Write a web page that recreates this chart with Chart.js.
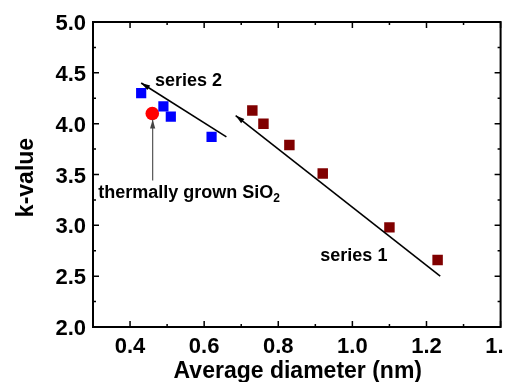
<!DOCTYPE html>
<html>
<head>
<meta charset="utf-8">
<script src="https://cdn.jsdelivr.net/npm/chart.js@4/dist/chart.umd.min.js"></script>
<style>
  html, body { margin: 0; padding: 0; background: #fff; }
  #wrap { width: 508px; height: 382px; }
</style>
</head>
<body>
<div id="wrap"><canvas id="kChart" width="508" height="382"></canvas></div>
<script>
/* === DADOS === */
const series1X = [0.73, 0.76, 0.83, 0.92, 1.10, 1.23];
const series1Y = [4.13, 4.00, 3.79, 3.51, 2.98, 2.66];
const series2X = [0.43, 0.49, 0.51, 0.62];
const series2Y = [4.30, 4.17, 4.07, 3.87];
const sio2X = [0.46];
const sio2Y = [4.10];

// arrow lines: [from, to] (arrowhead at "to")
const trend1X = [1.237, 0.685];
const trend1Y = [2.50, 4.08];
const trend2X = [0.66, 0.43];
const trend2Y = [3.87, 4.40];
const pointerX = [0.461, 0.461];
const pointerY = [3.44, 4.04];

const xTicks = [0.4, 0.6, 0.8, 1.0, 1.2, 1.4];
const xMinor = [0.3, 0.5, 0.7, 0.9, 1.1, 1.3];
const yTicks = [2.0, 2.5, 3.0, 3.5, 4.0, 4.5, 5.0];
const yMinor = [2.25, 2.75, 3.25, 3.75, 4.25, 4.75];

const xTitle = "Average diameter (nm)";
const yTitle = "k-value";

const toXY = (xs, ys) => xs.map((x, i) => ({ x: x, y: ys[i] }));

const FONT = '"Liberation Sans", Arial, Helvetica, sans-serif';

/* === PLUGIN: moldura, ticks, textos, setas === */
const framePlugin = {
  id: 'frame',
  afterDatasetsDraw(chart) {
    const ctx = chart.ctx;
    const a = chart.chartArea;
    const xs = chart.scales.x;
    const ys = chart.scales.y;
    ctx.save();

    // arrowheads
    function head(xArr, yArr, color) {
      const x0 = xs.getPixelForValue(xArr[0]), y0 = ys.getPixelForValue(yArr[0]);
      const x1 = xs.getPixelForValue(xArr[1]), y1 = ys.getPixelForValue(yArr[1]);
      const ang = Math.atan2(y1 - y0, x1 - x0);
      const len = 9, half = 2.6;
      ctx.fillStyle = color;
      ctx.beginPath();
      ctx.moveTo(x1, y1);
      ctx.lineTo(x1 - len * Math.cos(ang) + half * Math.sin(ang), y1 - len * Math.sin(ang) - half * Math.cos(ang));
      ctx.lineTo(x1 - len * Math.cos(ang) - half * Math.sin(ang), y1 - len * Math.sin(ang) + half * Math.cos(ang));
      ctx.closePath();
      ctx.fill();
    }
    head(trend1X, trend1Y, '#000');
    head(trend2X, trend2Y, '#000');
    head(pointerX, pointerY, '#444');

    // moldura
    ctx.strokeStyle = '#000';
    ctx.lineWidth = 2;
    ctx.strokeRect(a.left, a.top, a.right - a.left, a.bottom - a.top);

    // ticks para dentro
    ctx.lineWidth = 1.5;
    ctx.beginPath();
    xTicks.forEach(v => {
      const p = xs.getPixelForValue(v);
      ctx.moveTo(p, a.bottom); ctx.lineTo(p, a.bottom - 6);
      ctx.moveTo(p, a.top); ctx.lineTo(p, a.top + 6);
    });
    xMinor.forEach(v => {
      const p = xs.getPixelForValue(v);
      ctx.moveTo(p, a.bottom); ctx.lineTo(p, a.bottom - 3);
      ctx.moveTo(p, a.top); ctx.lineTo(p, a.top + 3);
    });
    yTicks.forEach(v => {
      const p = ys.getPixelForValue(v);
      ctx.moveTo(a.left, p); ctx.lineTo(a.left + 6, p);
      ctx.moveTo(a.right, p); ctx.lineTo(a.right - 6, p);
    });
    yMinor.forEach(v => {
      const p = ys.getPixelForValue(v);
      ctx.moveTo(a.left, p); ctx.lineTo(a.left + 3, p);
      ctx.moveTo(a.right, p); ctx.lineTo(a.right - 3, p);
    });
    ctx.stroke();

    // labels dos ticks (o ultimo fica cortado na margem, como no original)
    ctx.fillStyle = '#000';
    ctx.font = 'bold 22px ' + FONT;
    ctx.textBaseline = 'alphabetic';
    ctx.textAlign = 'center';
    ctx.save();
    ctx.beginPath();
    ctx.rect(0, a.bottom, 504, 40);
    ctx.clip();
    xTicks.forEach(v => {
      ctx.fillText(v.toFixed(1), xs.getPixelForValue(v), a.bottom + 26);
    });
    ctx.restore();
    ctx.textAlign = 'right';
    yTicks.forEach(v => {
      ctx.fillText(v.toFixed(1), a.left - 7, ys.getPixelForValue(v) + 8);
    });

    // titulos
    ctx.font = 'bold 23px ' + FONT;
    ctx.textAlign = 'center';
    ctx.fillText(xTitle, (a.left + a.right) / 2 + 1, 378);
    ctx.save();
    ctx.translate(33, (a.top + a.bottom) / 2 + 3);
    ctx.rotate(-Math.PI / 2);
    ctx.fillText(yTitle, 0, 0);
    ctx.restore();

    // anotações
    ctx.font = 'bold 18px ' + FONT;
    ctx.textAlign = 'center';
    ctx.fillText('series 2', xs.getPixelForValue(0.558), ys.getPixelForValue(4.37));
    ctx.fillText('series 1', xs.getPixelForValue(1.004), ys.getPixelForValue(2.65));
    ctx.textAlign = 'left';
    const tx = xs.getPixelForValue(0.314), ty = ys.getPixelForValue(3.265);
    const main = 'thermally grown SiO';
    ctx.fillText(main, tx, ty);
    const w = ctx.measureText(main).width;
    ctx.font = 'bold 12px ' + FONT;
    ctx.fillText('2', tx + w, ty + 4);

    ctx.restore();
  }
};

/* === GRAFICO === */
const ctx = document.getElementById('kChart').getContext('2d');
const chart = new Chart(ctx, {
  type: 'scatter',
  data: {
    datasets: [
      {
        label: 'trend 1',
        data: toXY(trend1X, trend1Y),
        showLine: true,
        borderColor: '#000',
        borderWidth: 1.6,
        pointRadius: 0
      },
      {
        label: 'trend 2',
        data: toXY(trend2X, trend2Y),
        showLine: true,
        borderColor: '#000',
        borderWidth: 1.6,
        pointRadius: 0
      },
      {
        label: 'pointer',
        data: toXY(pointerX, pointerY),
        showLine: true,
        borderColor: '#555',
        borderWidth: 1.2,
        pointRadius: 0
      },
      {
        label: 'series 1',
        data: toXY(series1X, series1Y),
        pointStyle: 'rect',
        pointRadius: 7.4,
        backgroundColor: '#800000',
        borderWidth: 0
      },
      {
        label: 'series 2',
        data: toXY(series2X, series2Y),
        pointStyle: 'rect',
        pointRadius: 7.2,
        backgroundColor: '#0000ff',
        borderWidth: 0
      },
      {
        label: 'thermal SiO2',
        data: toXY(sio2X, sio2Y),
        pointStyle: 'circle',
        pointRadius: 6.8,
        backgroundColor: '#ff0000',
        borderWidth: 0
      }
    ]
  },
  options: {
    responsive: false,
    animation: false,
    layout: { padding: { left: 93, top: 22, right: 3, bottom: 55 } },
    plugins: {
      legend: { display: false },
      tooltip: { enabled: false }
    },
    scales: {
      x: { type: 'linear', min: 0.3, max: 1.4, display: false },
      y: { type: 'linear', min: 2.0, max: 5.0, display: false }
    }
  },
  plugins: [framePlugin]
});
</script>
</body>
</html>
